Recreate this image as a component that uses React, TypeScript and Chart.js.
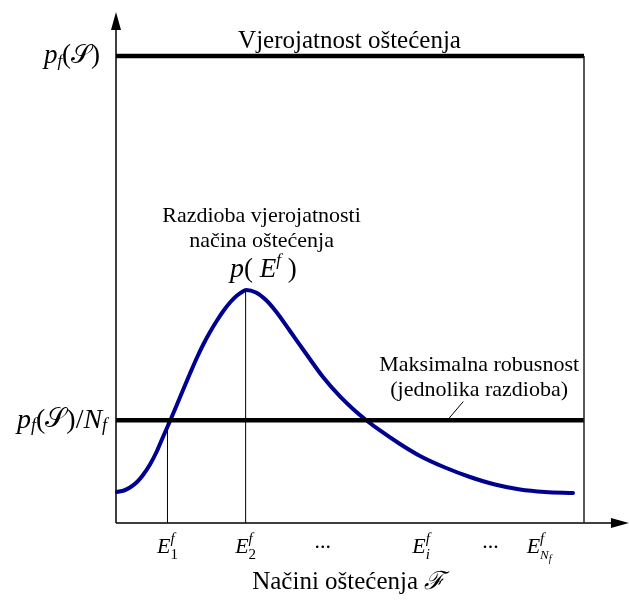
import React, { useEffect, useRef } from 'react';
import { Chart, registerables } from 'chart.js';

Chart.register(...registerables);

// ---- data (x: position along failure-mode axis, 0..100; y: probability, 0..1) ----
const curveX = [0.21, 1.71, 2.99, 4.49, 5.77, 7.26, 8.76, 10.04, 11.54, 13.03, 14.32, 15.81, 17.31, 18.59, 20.09, 21.58, 22.86, 24.36, 25.85, 26.92, 27.78, 29.91, 32.05, 34.19, 37.18, 40.81, 44.23, 47.86, 50.64, 53.42, 56.41, 60.68, 64.96, 70.3, 75.64, 80.98, 86.32, 91.67, 97.65];
const curveY = [0.0664, 0.0696, 0.076, 0.0878, 0.1028, 0.1253, 0.1542, 0.1842, 0.2184, 0.2537, 0.2848, 0.3201, 0.3544, 0.3812, 0.409, 0.4336, 0.4529, 0.4722, 0.4872, 0.4946, 0.4989, 0.4936, 0.4775, 0.4529, 0.4111, 0.3597, 0.3126, 0.2709, 0.2441, 0.2206, 0.1981, 0.1692, 0.1435, 0.1188, 0.0985, 0.0824, 0.0717, 0.0664, 0.0642];

const totalLevel = 1.0; // p_f(S)
const uniformLevel = 0.22; // p_f(S)/N_f
const xMin = 0;
const xMax = 100;
const xAxisEnd = 109.6;
const yAxisTop = 1.094;

const guideX = [11.0, 27.7];
const guideTop = [0.22, 0.499];

const modeX = [11.0, 27.7, 44.2, 65.2, 80.0, 90.4];
const modeSub = ['1', '2', '', 'i', '', 'N'];
const modeIsDots = [false, false, true, false, true, false];

const leaderX = [70.8, 74.2];
const leaderY = [0.22, 0.26];

const topTitle = 'Vjerojatnost oštećenja';
const xTitle = 'Načini oštećenja ';
const peakLabel = ['Razdioba vjerojatnosti', 'načina oštećenja'];
const uniformLabel = ['Maksimalna robusnost', '(jednolika razdioba)'];

type Seg = { t: string; size: number; italic?: boolean; dy?: number; stack?: boolean };

const FAMILY = '"Liberation Serif", "DejaVu Serif", serif';
const segFont = (s: Seg) => `${s.italic ? 'italic ' : ''}${s.size}px ${FAMILY}`;

function drawSegs(ctx: CanvasRenderingContext2D, segs: Seg[], x: number, y: number, align: 'left' | 'center' | 'right') {
  const pos: number[] = [];
  let cursor = 0;
  let prevStart = 0;
  let prevEnd = 0;
  segs.forEach((s) => {
    ctx.font = segFont(s);
    const w = ctx.measureText(s.t).width;
    const start = s.stack ? prevStart : cursor;
    pos.push(start);
    const end = start + w;
    cursor = s.stack ? Math.max(prevEnd, end) : end;
    prevStart = start;
    prevEnd = s.stack ? Math.max(prevEnd, end) : end;
  });
  const total = cursor;
  let x0 = x;
  if (align === 'center') x0 = x - total / 2;
  if (align === 'right') x0 = x - total;
  ctx.textAlign = 'left';
  segs.forEach((s, i) => {
    ctx.font = segFont(s);
    ctx.fillText(s.t, x0 + pos[i], y + (s.dy || 0));
  });
}

const overlay = {
  id: 'schematic',
  beforeDatasetsDraw(chart: any) {
    const { ctx, scales } = chart;
    const xs = scales.x;
    const ys = scales.y;
    const x0 = xs.getPixelForValue(xMin);
    const y0 = ys.getPixelForValue(0);
    const yTop = ys.getPixelForValue(yAxisTop);
    const xEnd = xs.getPixelForValue(xAxisEnd);
    ctx.save();
    ctx.strokeStyle = '#000';
    ctx.fillStyle = '#000';
    ctx.lineWidth = 1.5;
    ctx.beginPath();
    ctx.moveTo(x0, y0);
    ctx.lineTo(x0, yTop + 14);
    ctx.moveTo(x0, y0);
    ctx.lineTo(xEnd - 14, y0);
    ctx.stroke();
    ctx.beginPath();
    ctx.moveTo(x0, yTop);
    ctx.lineTo(x0 - 5, yTop + 18);
    ctx.lineTo(x0 + 5, yTop + 18);
    ctx.closePath();
    ctx.fill();
    ctx.beginPath();
    ctx.moveTo(xEnd, y0);
    ctx.lineTo(xEnd - 18, y0 - 5);
    ctx.lineTo(xEnd - 18, y0 + 5);
    ctx.closePath();
    ctx.fill();
    ctx.restore();
  },
  afterDraw(chart: any) {
    const { ctx, scales } = chart;
    const xs = scales.x;
    const ys = scales.y;
    const X = (v: number) => xs.getPixelForValue(v);
    const Y = (v: number) => ys.getPixelForValue(v);
    ctx.save();
    ctx.fillStyle = '#000';
    ctx.textBaseline = 'alphabetic';

    drawSegs(ctx, [{ t: topTitle, size: 25 }], X(49.9), Y(1.017), 'center');

    ctx.textBaseline = 'middle';
    drawSegs(ctx, [
      { t: 'p', size: 27, italic: true },
      { t: 'f', size: 17, italic: true, dy: 6 },
      { t: '(', size: 27 },
      { t: '𝒮', size: 26 },
      { t: ')', size: 27 },
    ], X(-3.4), Y(totalLevel), 'right');
    drawSegs(ctx, [
      { t: 'p', size: 28, italic: true },
      { t: 'f', size: 18, italic: true, dy: 6 },
      { t: '(', size: 28 },
      { t: '𝒮', size: 27 },
      { t: ')/', size: 28 },
      { t: 'N', size: 28, italic: true },
      { t: 'f', size: 18, italic: true, dy: 6 },
    ], X(-1.9), Y(uniformLevel), 'right');
    ctx.textBaseline = 'alphabetic';

    drawSegs(ctx, [{ t: peakLabel[0], size: 22 }], X(31.1), Y(0.645), 'center');
    drawSegs(ctx, [{ t: peakLabel[1], size: 22 }], X(31.1), Y(0.591), 'center');
    drawSegs(ctx, [
      { t: 'p', size: 28, italic: true },
      { t: '( ', size: 27 },
      { t: 'E', size: 27, italic: true },
      { t: 'f', size: 17, italic: true, dy: -12 },
      { t: ' )', size: 27 },
    ], X(31.5), Y(0.527), 'center');

    drawSegs(ctx, [{ t: uniformLabel[0], size: 22 }], X(77.6), Y(0.325), 'center');
    drawSegs(ctx, [{ t: uniformLabel[1], size: 22 }], X(77.6), Y(0.272), 'center');

    const tickY = Y(0) + 30;
    modeX.forEach((v, i) => {
      if (modeIsDots[i]) {
        drawSegs(ctx, [{ t: '...', size: 22 }], X(v), tickY - 5, 'center');
        return;
      }
      const segs: Seg[] = [
        { t: 'E', size: 22, italic: true },
        { t: 'f', size: 15, italic: true, dy: -10 },
      ];
      if (modeSub[i] === 'N') {
        segs.push({ t: 'N', size: 13, italic: true, dy: 6, stack: true });
        segs.push({ t: 'f', size: 10, italic: true, dy: 9 });
      } else {
        segs.push({ t: modeSub[i], size: 15, italic: /[a-z]/.test(modeSub[i]), dy: 6, stack: true });
      }
      drawSegs(ctx, segs, X(v), tickY, 'center');
    });

    drawSegs(ctx, [
      { t: xTitle, size: 25 },
      { t: 'ℱ', size: 25, italic: true },
    ], X(29.1), Y(-0.142), 'left');

    ctx.restore();
  },
};

export default function App() {
  const ref = useRef<HTMLCanvasElement | null>(null);
  useEffect(() => {
    if (!ref.current) return;
    const line = (xs: number[], ys: number[]) => xs.map((x, i) => ({ x, y: ys[i] }));
    const base = { pointRadius: 0, clip: false as any, fill: false, tension: 0 };
    const chart = new Chart(ref.current, {
      type: 'line',
      data: {
        datasets: [
          { ...base, data: line([xMin, xMax], [totalLevel, totalLevel]), borderColor: '#000', borderWidth: 4.5 },
          { ...base, data: line([xMax, xMax], [0, totalLevel]), borderColor: '#222', borderWidth: 1.5 },
          { ...base, data: line([guideX[0], guideX[0]], [0, guideTop[0]]), borderColor: '#000', borderWidth: 1 },
          { ...base, data: line([guideX[1], guideX[1]], [0, guideTop[1]]), borderColor: '#000', borderWidth: 1 },
          { ...base, data: line(leaderX, leaderY), borderColor: '#000', borderWidth: 1 },
          { ...base, data: line([xMin, xMax], [uniformLevel, uniformLevel]), borderColor: '#000', borderWidth: 4.5 },
          { ...base, data: line(curveX, curveY), borderColor: '#000090', borderWidth: 4, cubicInterpolationMode: 'monotone', borderCapStyle: 'round', borderJoinStyle: 'round' },
        ] as any,
      },
      options: {
        animation: false,
        responsive: false,
        devicePixelRatio: 1,
        layout: { padding: { left: 116, right: 45, top: 56, bottom: 87 } },
        scales: {
          x: { type: 'linear', min: xMin, max: xMax, display: false },
          y: { type: 'linear', min: 0, max: totalLevel, display: false },
        },
        plugins: { legend: { display: false }, tooltip: { enabled: false } },
        events: [],
      },
      plugins: [overlay],
    });
    return () => chart.destroy();
  }, []);
  return (
    <div style={{ position: 'absolute', left: 0, top: 0, width: 629, height: 610, background: '#fff' }}>
      <canvas ref={ref} width={629} height={610} style={{ display: 'block' }} />
    </div>
  );
}
